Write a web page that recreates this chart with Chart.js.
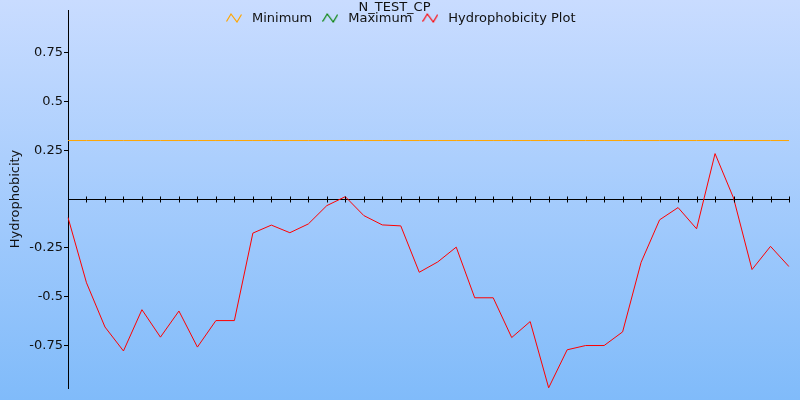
<!DOCTYPE html>
<html>
<head>
<meta charset="utf-8">
<script src="https://cdn.jsdelivr.net/npm/chart.js@4/dist/chart.umd.min.js"></script>
<style>
  html, body { margin: 0; padding: 0; }
  #wrap { width: 800px; height: 400px; background: linear-gradient(#c9dcff, #80bbfa); }
</style>
</head>
<body>
<div id="wrap"><canvas id="chart"></canvas></div>
<script>
// residue positions along the sequence
const positions = [1, 2, 3, 4, 5, 6, 7, 8, 9, 10, 11, 12, 13, 14, 15, 16, 17, 18, 19, 20,
    21, 22, 23, 24, 25, 26, 27, 28, 29, 30, 31, 32, 33, 34, 35, 36, 37, 38, 39, 40];

const hydroValues = [-0.095, -0.43, -0.657, -0.78, -0.568, -0.709, -0.575, -0.76, -0.624, -0.624,
    -0.175, -0.134, -0.173, -0.128, -0.034, 0.012, -0.085, -0.133, -0.138, -0.376,
    -0.323, -0.247, -0.507, -0.507, -0.711, -0.629, -0.969, -0.774, -0.752, -0.752,
    -0.682, -0.325, -0.107, -0.044, -0.153, 0.233, 0.005, -0.362, -0.243, -0.347];

const minimumValues = [0.3, 0.3, 0.3, 0.3, 0.3, 0.3, 0.3, 0.3, 0.3, 0.3,
    0.3, 0.3, 0.3, 0.3, 0.3, 0.3, 0.3, 0.3, 0.3, 0.3,
    0.3, 0.3, 0.3, 0.3, 0.3, 0.3, 0.3, 0.3, 0.3, 0.3,
    0.3, 0.3, 0.3, 0.3, 0.3, 0.3, 0.3, 0.3, 0.3, 0.3];

const maximumValues = [];   // not visible in the plotted range

const yTickValues = [-0.75, -0.5, -0.25, 0.25, 0.5, 0.75];
const yTickLabels = ['-0.75', '-0.5', '-0.25', '0.25', '0.5', '0.75'];

const seriesColors = ['#ffa500', '#008000', '#ff0000'];

// little zigzag icons for the legend
function zigzagIcon(color) {
    const c = document.createElement('canvas');
    c.width = 16;
    c.height = 11;
    const g = c.getContext('2d');
    g.strokeStyle = color;
    g.lineWidth = 1.2;
    g.beginPath();
    g.moveTo(0.5, 9.5);
    g.lineTo(5, 2);
    g.lineTo(11, 10);
    g.lineTo(15.5, 2.5);
    g.stroke();
    return c;
}
const legendIcons = seriesColors.map(zigzagIcon);

Chart.defaults.font.family = 'DejaVu Sans';
Chart.defaults.font.size = 13;
Chart.defaults.color = '#111';

// legend row overlapping the top of the plot, crossing ticks on the zero line
const overlay = {
    id: 'overlay',
    afterDraw(chart) {
        const x = chart.scales.x, y = chart.scales.y;
        const ctx = chart.ctx;
        ctx.save();

        // ticks across the x axis
        const y0 = Math.round(y.getPixelForValue(0)) + 0.5;
        ctx.strokeStyle = '#000';
        ctx.lineWidth = 1;
        ctx.beginPath();
        x.ticks.forEach((t, i) => {
            const px = Math.round(x.getPixelForTick(i)) + 0.5;
            ctx.moveTo(px, y0 - 3);
            ctx.lineTo(px, y0 + 3);
        });
        ctx.stroke();

        // legend
        ctx.font = '13px "DejaVu Sans"';
        ctx.textBaseline = 'middle';
        ctx.fillStyle = '#111';
        const names = chart.data.datasets.map(d => d.label);
        const widths = names.map(n => ctx.measureText(n).width);
        const total = widths.reduce((a, b) => a + b, 0) + names.length * 26 + (names.length - 1) * 10;
        let cx = Math.round(401 - total / 2);
        names.forEach((n, i) => {
            ctx.drawImage(legendIcons[i], cx, 12);
            cx += 26;
            ctx.fillText(n, cx, 18.5);
            cx += widths[i] + 10;
        });
        ctx.restore();
    }
};

new Chart(document.getElementById('chart'), {
    type: 'line',
    data: {
        labels: positions,
        datasets: [{
            label: 'Minimum',
            data: minimumValues,
            borderColor: seriesColors[0],
            borderWidth: 1,
            pointRadius: 0,
            tension: 0
        }, {
            label: 'Maximum',
            data: maximumValues,
            borderColor: seriesColors[1],
            borderWidth: 1,
            pointRadius: 0,
            tension: 0
        }, {
            label: 'Hydrophobicity Plot',
            data: hydroValues,
            borderColor: seriesColors[2],
            borderWidth: 1,
            pointRadius: 0,
            tension: 0
        }]
    },
    options: {
        responsive: true,
        maintainAspectRatio: false,
        animation: false,
        layout: { padding: { left: 0, right: 11, top: 0, bottom: 12 } },
        plugins: {
            title: {
                display: true,
                text: 'N_TEST_CP',
                color: '#111',
                font: { size: 13, weight: 'normal', lineHeight: '10px' },
                padding: { top: 3, bottom: -3 }
            },
            legend: { display: false },
            tooltip: { enabled: false }
        },
        scales: {
            x: {
                type: 'category',
                position: { y: 0 },
                offset: false,
                grid: { display: false },
                border: { display: true, color: '#000', width: 1 },
                ticks: { display: false }
            },
            y: {
                min: -0.97,
                max: 0.97,
                afterBuildTicks(scale) {
                    scale.ticks = yTickValues.map(v => ({ value: v }));
                },
                afterFit(scale) {
                    scale.width = 68;
                },
                grid: { drawOnChartArea: false, drawTicks: true, tickLength: 4, color: '#000' },
                border: { display: true, color: '#000', width: 1 },
                ticks: {
                    padding: 1,
                    color: '#111',
                    callback: (v) => yTickLabels[yTickValues.indexOf(v)]
                },
                title: {
                    display: true,
                    text: 'Hydrophobicity',
                    color: '#111',
                    font: { size: 13 },
                    padding: { top: 8, bottom: 0 }
                }
            }
        }
    },
    plugins: [overlay]
});
</script>
</body>
</html>
